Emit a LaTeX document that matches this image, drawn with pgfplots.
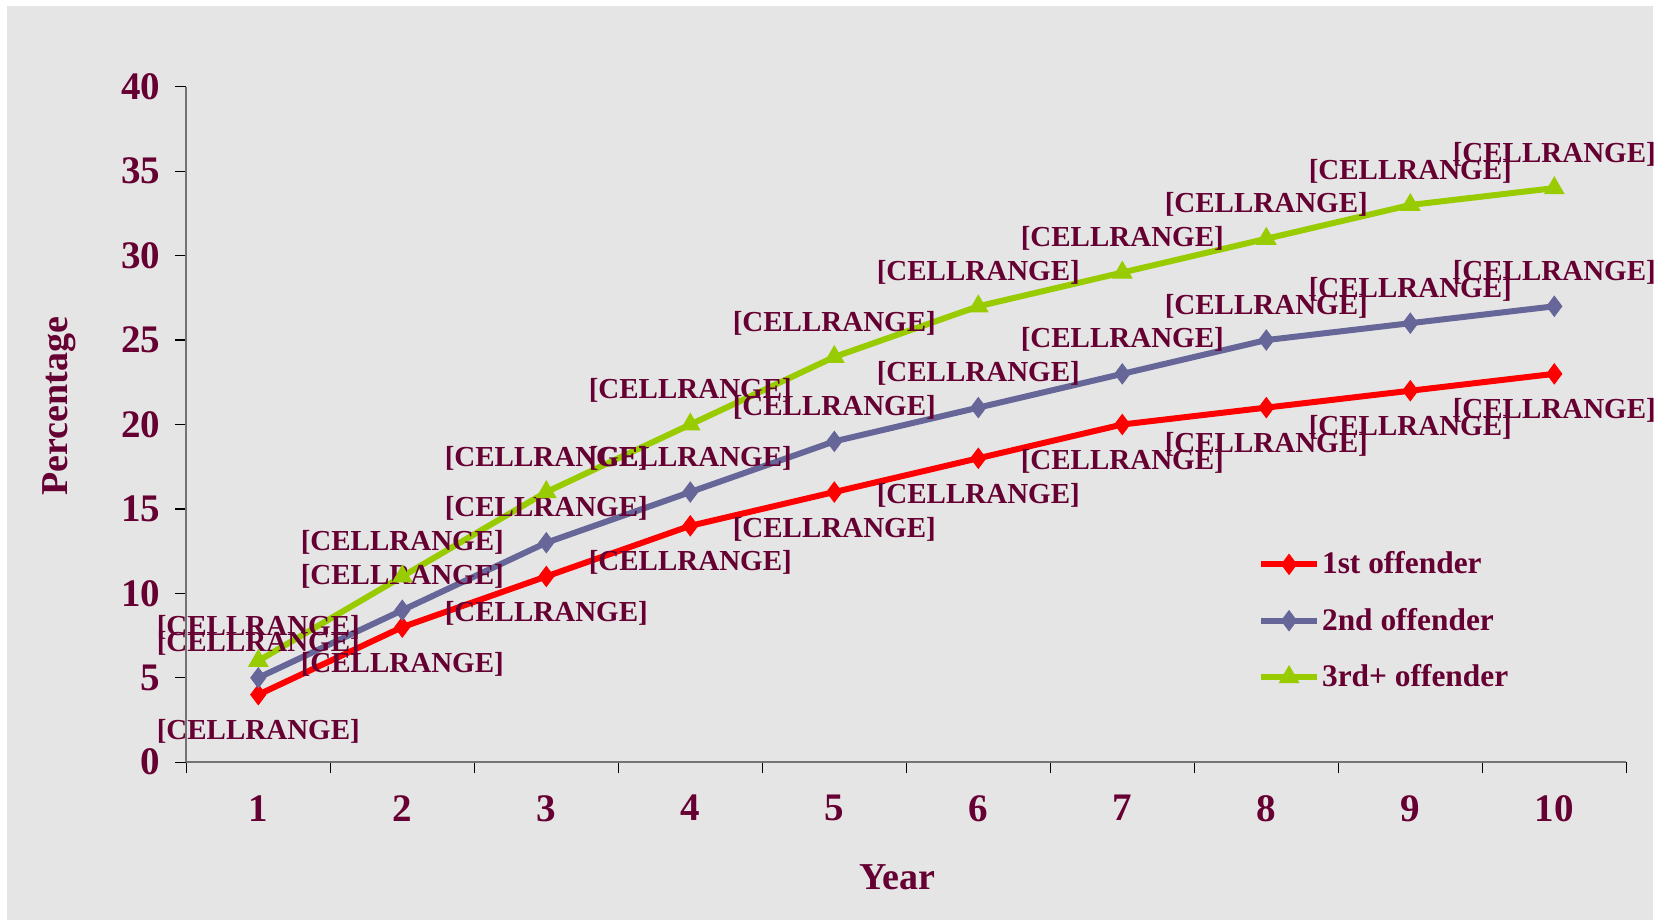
\documentclass[border=0pt]{standalone}
\usepackage{pgfplots}
\pgfplotsset{compat=1.18}
\usepackage{fontspec}
\setmainfont{Liberation Serif}
\definecolor{maroon}{RGB}{102,0,51}
\definecolor{bggray}{RGB}{229,229,229}
\definecolor{redline}{RGB}{255,0,0}
\definecolor{blueline}{RGB}{102,102,153}
\definecolor{greenline}{RGB}{153,204,0}
\newcommand{\cellrange}{[CELLRANGE]}
\begin{document}
\begin{tikzpicture}
% 1 px of the reference = 0.5pt, axis origin at pixel (186.3,762.2)
\path[use as bounding box, fill=white] (-93.15pt,-78.9pt) rectangle (736.85pt,381.1pt);
\fill[bggray] (-89.65pt,-78.9pt) rectangle (733.35pt,378.1pt);
\begin{axis}[
  at={(0pt,0pt)}, anchor=origin,
  scale only axis,
  width=720pt, height=337.7pt,
  xmin=0.5, xmax=10.5, ymin=0, ymax=40,
  axis lines*=left,
  axis line style={draw=black!55, line width=0.8pt},
  xtick={1,...,10},
  minor xtick={0.5,1.5,...,10.5},
  ytick={0,5,...,40},
  major x tick style={draw=none},
  minor tick length=5.5pt,
  major tick length=5.5pt,
  tick align=outside,
  tick style={black, line width=0.6pt},
  /pgf/number format/assume math mode=true,
  tick label style={font=\fontsize{19.5}{22}\selectfont\bfseries, text=maroon},
  xticklabel style={yshift=-7.5pt},
  yticklabel style={xshift=-4pt},
  xlabel={Year}, ylabel={Percentage},
  label style={font=\fontsize{19}{22}\selectfont\bfseries, text=maroon},
  xlabel style={at={(axis description cs:0.494,-0.17)}, anchor=center},
  ylabel style={at={(axis description cs:-0.088,0.527)}, anchor=center, rotate=0},
  nodes near coords=\cellrange,
  every node near coord/.append style={font=\fontsize{14.5}{17}\selectfont\bfseries, text=maroon, anchor=center, inner sep=0pt},
  legend style={at={(0.744,0.318)}, anchor=north west, draw=none, fill=none,
    font=\fontsize{15.7}{18}\selectfont\bfseries, text=maroon,
    row sep=11.6pt, inner sep=0pt,
    nodes={inner xsep=1pt}},
  legend cell align=left,
  legend image code/.code={
    \draw[#1, mark repeat=2, mark phase=2] plot coordinates {(0pt,0pt) (14pt,0pt) (28pt,0pt)};
  },
  every axis plot/.append style={line width=3pt, mark options={solid, line width=0.5pt}},
]
\addplot[redline, mark=diamond*, mark size=5pt,
  every node near coord/.append style={yshift=-18.5pt}] coordinates {
  (1,4) (2,8) (3,11) (4,14) (5,16) (6,18) (7,20) (8,21) (9,22) (10,23)};
\addlegendentry{1st offender}
\addplot[blueline, mark=diamond*, mark size=5pt,
  every node near coord/.append style={yshift=17pt}] coordinates {
  (1,5) (2,9) (3,13) (4,16) (5,19) (6,21) (7,23) (8,25) (9,26) (10,27)};
\addlegendentry{2nd offender}
\addplot[greenline, mark=triangle*, mark size=5.5pt,
  every node near coord/.append style={yshift=17pt}] coordinates {
  (1,6) (2,11) (3,16) (4,20) (5,24) (6,27) (7,29) (8,31) (9,33) (10,34)};
\addlegendentry{3rd+ offender}
\end{axis}
\end{tikzpicture}
\end{document}
